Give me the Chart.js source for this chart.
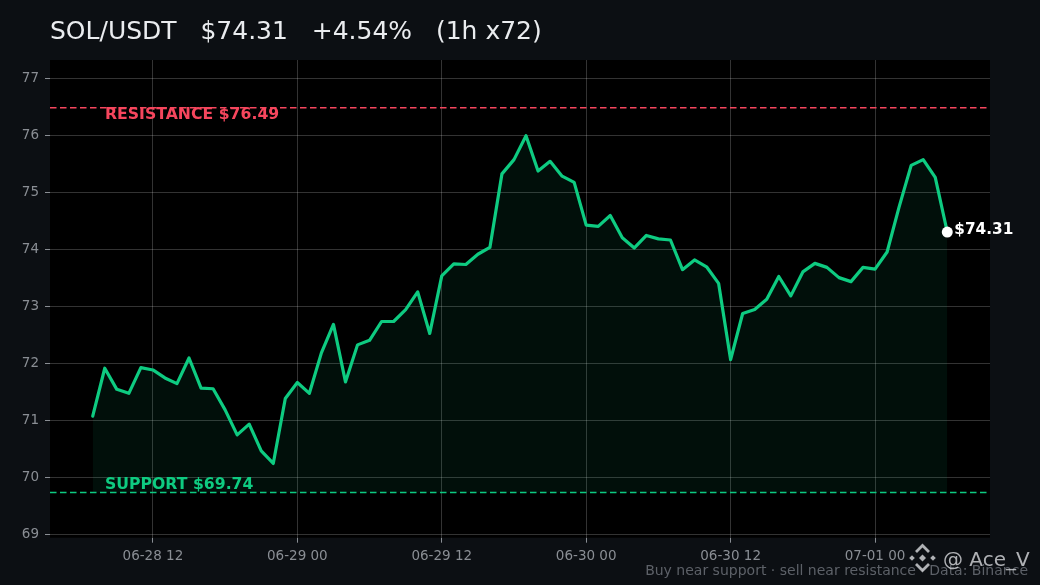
<!DOCTYPE html>
<html>
<head>
<meta charset="utf-8">
<script src="https://cdn.jsdelivr.net/npm/chart.js@4.4.1/dist/chart.umd.min.js"></script>
<style>
  html, body { margin: 0; padding: 0; background: #0c0f13; }
  #wrap { width: 1040px; height: 585px; }
</style>
</head>
<body>
<div id="wrap"><canvas id="chart" width="1040" height="585"></canvas></div>
<script>
// données : SOL/USDT, 72 bougies 1h (06-28 07:00 -> 07-01 06:00)
const prices = [
    71.08, 71.92, 71.55, 71.48, 71.93, 71.89, 71.75, 71.65, 72.10, 71.57,
    71.56, 71.19, 70.75, 70.94, 70.47, 70.25, 71.39, 71.67, 71.48, 72.19,
    72.69, 71.68, 72.33, 72.41, 72.74, 72.74, 72.95, 73.26, 72.53, 73.54,
    73.75, 73.74, 73.92, 74.04, 75.33, 75.58, 76.00, 75.38, 75.55, 75.29,
    75.18, 74.43, 74.41, 74.60, 74.21, 74.03, 74.25, 74.19, 74.17, 73.65,
    73.82, 73.70, 73.41, 72.07, 72.88, 72.95, 73.13, 73.53, 73.19, 73.61,
    73.76, 73.69, 73.51, 73.44, 73.69, 73.66, 73.96, 74.75, 75.48, 75.58,
    75.27, 74.31
];
const support = 69.74;
const resistance = 76.49;
const xTickPos = [5, 17, 29, 41, 53, 65];
const xTickLabels = ["06-28 12", "06-29 00", "06-29 12", "06-30 00", "06-30 12", "07-01 00"];
const yTicks = [69, 70, 71, 72, 73, 74, 75, 76, 77];

const GREEN = "#0ecb81";
const RED = "#f6465d";
const FONT = "'DejaVu Sans', 'Liberation Sans', sans-serif";

const last = prices.length - 1;
const xMin = -last * 0.05;
const xMax = last * 1.05;
const pts = prices.map((v, i) => ({ x: i, y: v }));

// fond noir de la zone du graphique + textes
const decor = {
    id: "decor",
    beforeDraw(chart) {
        const { ctx, chartArea: a } = chart;
        ctx.save();
        ctx.fillStyle = "#000000";
        ctx.fillRect(a.left, a.top, a.right - a.left, a.bottom - a.top);
        ctx.restore();
    },
    afterDraw(chart) {
        const { ctx } = chart;
        const y = chart.scales.y, x = chart.scales.x;
        const change = ((prices[last] / prices[0] - 1) * 100).toFixed(2);
        ctx.save();
        // titre
        ctx.fillStyle = "#eaecef";
        ctx.font = "25px " + FONT;
        ctx.textBaseline = "alphabetic";
        ctx.fillText("SOL/USDT   $" + prices[last].toFixed(2) + "   +" + change + "%   (1h x" + prices.length + ")", 50, 39);

        // étiquettes support / résistance
        ctx.font = "bold 15.7px " + FONT;
        ctx.fillStyle = RED;
        ctx.textBaseline = "top";
        ctx.fillText("RESISTANCE $" + resistance.toFixed(2), 105, y.getPixelForValue(resistance) - 0.5);
        ctx.fillStyle = GREEN;
        ctx.textBaseline = "alphabetic";
        ctx.fillText("SUPPORT $" + support.toFixed(2), 105, y.getPixelForValue(support) - 3.5);

        // dernier prix
        ctx.fillStyle = "#ffffff";
        ctx.font = "bold 15.3px " + FONT;
        ctx.textBaseline = "middle";
        ctx.fillText("$" + prices[last].toFixed(2), x.getPixelForValue(last) + 7, y.getPixelForValue(prices[last]) - 1.5);

        // pied de page
        ctx.fillStyle = "#5d6168";
        ctx.font = "14px " + FONT;
        ctx.textAlign = "right";
        ctx.textBaseline = "alphabetic";
        ctx.fillText("Buy near support \u00b7 sell near resistance \u00b7 Data: Binance", 1028, 574.5);

        // filigrane
        ctx.globalAlpha = 0.8;
        ctx.fillStyle = "#d8dadd";
        ctx.font = "20px " + FONT;
        ctx.textAlign = "left";
        ctx.fillText("@ Ace_V", 943, 566);
        const cx = 922.5, cy = 558;
        const diamond = (dx, dy, r) => {
            ctx.beginPath();
            ctx.moveTo(cx + dx, cy + dy - r);
            ctx.lineTo(cx + dx + r, cy + dy);
            ctx.lineTo(cx + dx, cy + dy + r);
            ctx.lineTo(cx + dx - r, cy + dy);
            ctx.closePath();
            ctx.fill();
        };
        diamond(0, 0, 3.5);
        diamond(-10.5, 0, 2.8);
        diamond(10.5, 0, 2.8);
        ctx.lineWidth = 2.8;
        ctx.strokeStyle = "#d8dadd";
        ctx.beginPath();
        ctx.moveTo(cx - 6.5, cy - 6); ctx.lineTo(cx, cy - 12.5); ctx.lineTo(cx + 6.5, cy - 6);
        ctx.moveTo(cx - 6.5, cy + 6); ctx.lineTo(cx, cy + 12.5); ctx.lineTo(cx + 6.5, cy + 6);
        ctx.stroke();
        ctx.restore();
    }
};

new Chart(document.getElementById("chart"), {
    type: "line",
    data: {
        datasets: [
            {
                data: pts,
                borderColor: GREEN,
                borderWidth: 3.2,
                borderJoinStyle: "round",
                borderCapStyle: "round",
                backgroundColor: "rgba(14, 203, 129, 0.075)",
                fill: { value: support },
                pointRadius: 0,
                tension: 0,
                order: 2
            },
            {
                data: [{ x: xMin, y: resistance }, { x: xMax, y: resistance }],
                borderColor: RED,
                borderWidth: 1.6,
                borderDash: [6.5, 3.5],
                pointRadius: 0,
                fill: false,
                order: 3
            },
            {
                data: [{ x: xMin, y: support }, { x: xMax, y: support }],
                borderColor: GREEN,
                borderWidth: 1.6,
                borderDash: [6.5, 3.5],
                pointRadius: 0,
                fill: false,
                order: 3
            },
            {
                data: [pts[last]],
                pointRadius: 5.5,
                pointBackgroundColor: "#ffffff",
                pointBorderWidth: 0,
                showLine: false,
                order: 1
            }
        ]
    },
    options: {
        responsive: false,
        animation: false,
        devicePixelRatio: 1,
        layout: { padding: { top: 60, right: 50, left: 0, bottom: 0 } },
        plugins: {
            legend: { display: false },
            tooltip: { enabled: false }
        },
        scales: {
            x: {
                type: "linear",
                min: xMin,
                max: xMax,
                afterBuildTicks: (s) => { s.ticks = xTickPos.map(v => ({ value: v })); },
                afterFit: (s) => { s.height = 47.3; },
                grid: {
                    color: "rgba(255, 255, 255, 0.2)",
                    tickColor: "#8a8e94",
                    tickLength: 5,
                    lineWidth: 1
                },
                border: { display: false },
                ticks: {
                    autoSkip: false,
                    maxRotation: 0,
                    padding: 6,
                    color: "#8a8e94",
                    font: { family: FONT, size: 13.5 },
                    callback: (v) => xTickLabels[xTickPos.indexOf(v)]
                }
            },
            y: {
                min: 68.947,
                max: 77.328,
                afterBuildTicks: (s) => { s.ticks = yTicks.map(v => ({ value: v })); },
                afterFit: (s) => { s.width = 50; },
                grid: {
                    color: "rgba(255, 255, 255, 0.2)",
                    tickColor: "#8a8e94",
                    tickLength: 5,
                    lineWidth: 1
                },
                border: { display: false },
                ticks: {
                    padding: 6,
                    color: "#8a8e94",
                    font: { family: FONT, size: 13.5 },
                    callback: (v) => String(v)
                }
            }
        }
    },
    plugins: [decor]
});
</script>
</body>
</html>
